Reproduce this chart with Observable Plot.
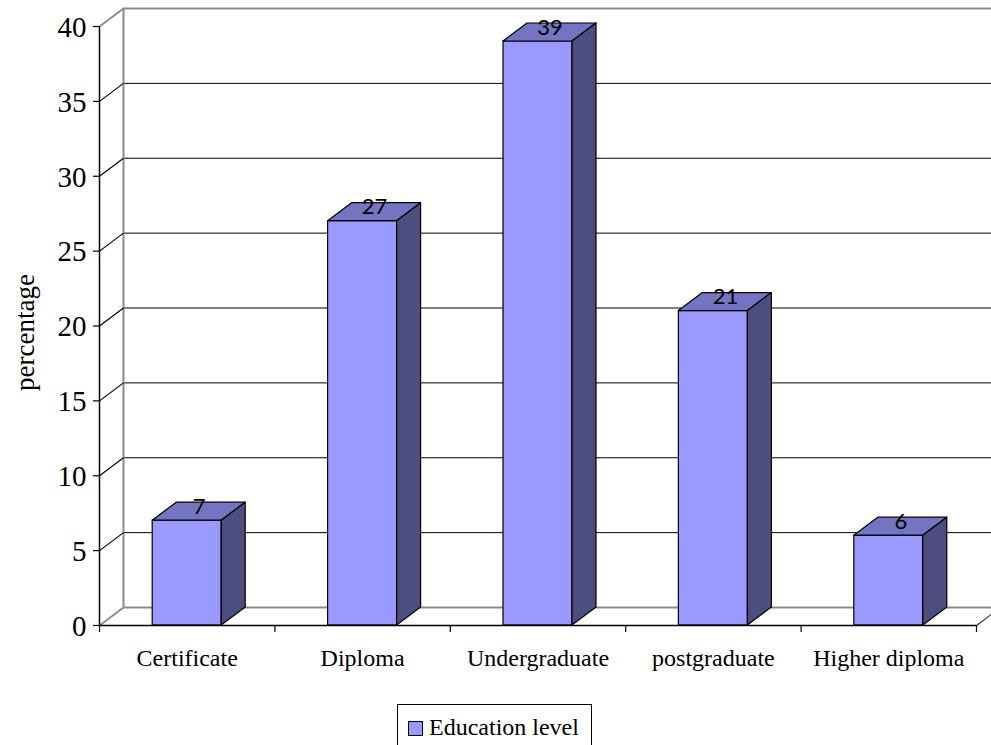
<!DOCTYPE html>
<html>
<head>
<meta charset="utf-8">
<script src="https://cdn.jsdelivr.net/npm/d3@7"></script>
<script src="https://cdn.jsdelivr.net/npm/@observablehq/plot@0.6"></script>
<style>
  html, body { margin: 0; padding: 0; background: #fff; overflow: hidden; }
  #wrap { position: relative; width: 991px; height: 745px; }
  #legend {
    position: absolute; left: 397px; top: 704px; width: 195px; height: 50px;
    border: 1px solid #000; box-sizing: border-box;
    font-family: "Liberation Serif", "Times New Roman", serif; font-size: 24px; color: #000;
  }
  #legend .sw {
    position: absolute; left: 10px; top: 16px; width: 13px; height: 13px;
    background: #9999ff; border: 1px solid #000;
  }
  #legend .lb { position: absolute; left: 31px; top: 7px; white-space: nowrap; line-height: 30px; }
</style>
</head>
<body>
<div id="wrap">
  <div id="chart"></div>
  <div id="legend"><span class="sw"></span><span class="lb">Education level</span></div>
</div>
<script>
// Survey respondents by education level (percent)
const categories = ["Certificate", "Diploma", "Undergraduate", "postgraduate", "Higher diploma"];
const percentages = [7, 27, 39, 21, 6];
const yTicks = [0, 5, 10, 15, 20, 25, 30, 35, 40];
const gridValues = [5, 10, 15, 20, 25, 30, 35];

// layout
const W = 991, H = 700;
const margin = {left: 99, right: 15, top: 26, bottom: 75};
const yMax = 40;
const pxPerCat = (W - margin.left - margin.right) / categories.length;
const pxPerUnit = (H - margin.top - margin.bottom) / yMax;

// oblique depth of the 3-D box, in pixels, converted to data units
const depthPx = {x: 24, y: 18};
const DX = depthPx.x / pxPerCat;
const DY = depthPx.y / pxPerUnit;
const barFrac = 69 / pxPerCat;       // bar front width as a share of the category slot
const tickLen = {y: 6 / pxPerCat, x: 7 / pxPerUnit};

const colors = {front: "#9999ff", top: "#7474c2", side: "#4d4d80", wall: "#8a8a8a"};

const rows = categories.map((c, i) => ({
  category: c, value: percentages[i], i,
  x1: i + 0.5 - barFrac / 2, x2: i + 0.5 + barFrac / 2
}));

const topFaces = rows.flatMap(r => [
  {category: r.category, y: r.value, x1: r.x1, x2: r.x2},
  {category: r.category, y: r.value + DY, x1: r.x1 + DX, x2: r.x2 + DX}
]);
const sideFaces = rows.flatMap(r => [
  {category: r.category, x: r.x2, y1: 0, y2: r.value},
  {category: r.category, x: r.x2 + DX, y1: DY, y2: r.value + DY}
]);

const serif = "Liberation Serif, Times New Roman, serif";

const chart = Plot.plot({
  width: W, height: H,
  marginLeft: margin.left, marginRight: margin.right,
  marginTop: margin.top, marginBottom: margin.bottom,
  x: {type: "linear", domain: [0, categories.length], axis: null},
  y: {type: "linear", domain: [0, yMax], axis: null},
  style: {background: "white", overflow: "visible"},
  marks: [
    // back wall gridlines
    Plot.ruleY(gridValues, {x1: 0, x2: categories.length, dx: depthPx.x, dy: -depthPx.y, stroke: "#000", strokeWidth: 1}),
    Plot.ruleY([0, yMax], {x1: 0, x2: categories.length, dx: depthPx.x, dy: -depthPx.y, stroke: colors.wall, strokeWidth: 2}),
    Plot.ruleX([0], {y1: 0, y2: yMax, dx: depthPx.x, dy: -depthPx.y, stroke: colors.wall, strokeWidth: 2}),
    // side wall diagonals
    Plot.link(gridValues, {x1: 0, y1: d => d, x2: DX, y2: d => d + DY, stroke: "#000", strokeWidth: 1.2}),
    Plot.link([0, yMax], {x1: 0, y1: d => d, x2: DX, y2: d => d + DY, stroke: colors.wall, strokeWidth: 1.8}),
    Plot.link([categories.length], {x1: d => d, y1: 0, x2: d => d + DX, y2: DY, stroke: "#333", strokeWidth: 1.2}),
    // bars: front, top and side faces
    Plot.rectY(rows, {x1: "x1", x2: "x2", y: "value", fill: colors.front, stroke: "#000", strokeWidth: 1.2}),
    Plot.areaX(topFaces, {y: "y", x1: "x1", x2: "x2", z: "category", fill: colors.top, stroke: "#000", strokeWidth: 1.2, curve: "linear"}),
    Plot.areaY(sideFaces, {x: "x", y1: "y1", y2: "y2", z: "category", fill: colors.side, stroke: "#000", strokeWidth: 1.2, curve: "linear"}),
    // front axes
    Plot.ruleX([0], {y1: 0, y2: yMax, stroke: "#000", strokeWidth: 1.5}),
    Plot.ruleY([0], {x1: 0, x2: categories.length, stroke: "#000", strokeWidth: 1.5}),
    Plot.ruleY(yTicks, {x1: -tickLen.y, x2: 0, stroke: "#000", strokeWidth: 1.2}),
    Plot.ruleX(d3.range(categories.length + 1), {y1: -tickLen.x, y2: 0, stroke: "#000", strokeWidth: 1.2}),
    // tick labels
    Plot.text(yTicks, {x: 0, y: d => d, text: d => String(d), textAnchor: "end", dx: -13, dy: 1, fontSize: 29, fontFamily: serif, fill: "#000"}),
    Plot.text(rows, {x: d => d.i + 0.5, y: 0, text: "category", dy: 33, fontSize: 24, fontFamily: serif, fill: "#000"}),
    // value labels on the bar tops
    Plot.text(rows, {x: d => d.i + 0.5 + DX / 2, y: d => d.value + DY / 2, text: d => String(d.value), dy: -5, fontSize: 22, fontFamily: "Lato, Liberation Sans, sans-serif", fill: "#000"}),
    // axis title
    Plot.text(["percentage"], {x: -74 / pxPerCat, y: yMax / 2 - 6.5 / pxPerUnit, rotate: -90, fontSize: 27, fontFamily: serif, fill: "#000"})
  ]
});
document.getElementById("chart").appendChild(chart);
</script>
</body>
</html>
